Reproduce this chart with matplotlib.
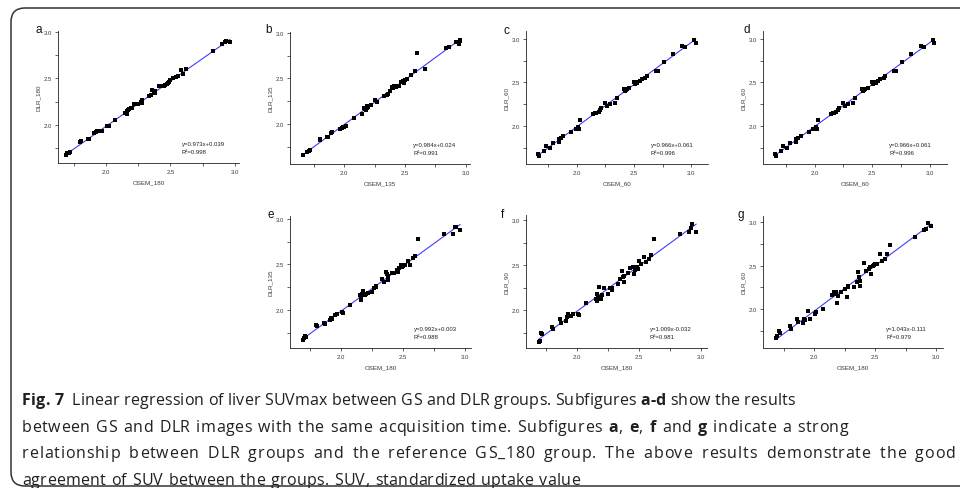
import matplotlib
matplotlib.use('Agg')
import matplotlib.pyplot as plt
from matplotlib.patches import FancyBboxPatch
from matplotlib.transforms import IdentityTransform
import numpy as np

W, H = 960, 489

# OSEM_180 values (shared x for panels a, e, f, g)
osem_180 = [1.69, 1.70, 1.71, 1.72, 1.80, 1.81, 1.86, 1.87, 1.91, 1.92, 1.93,
            1.95, 1.97, 2.01, 2.02, 2.07, 2.15, 2.16, 2.16, 2.17, 2.18, 2.19,
            2.20, 2.22, 2.25, 2.27, 2.28, 2.28, 2.33, 2.35, 2.36, 2.37, 2.38,
            2.38, 2.41, 2.43, 2.45, 2.46, 2.47, 2.48, 2.49, 2.50, 2.52, 2.54,
            2.56, 2.58, 2.60, 2.62, 2.83, 2.90, 2.92, 2.93, 2.96]
dlr_180 = [1.68, 1.70, 1.70, 1.71, 1.82, 1.83, 1.85, 1.85, 1.91, 1.92, 1.93,
           1.94, 1.94, 1.99, 1.99, 2.05, 2.13, 2.15, 2.12, 2.16, 2.17, 2.18,
           2.18, 2.22, 2.22, 2.25, 2.27, 2.24, 2.31, 2.32, 2.38, 2.37, 2.34,
           2.36, 2.42, 2.42, 2.42, 2.43, 2.44, 2.45, 2.46, 2.48, 2.50, 2.52,
           2.53, 2.59, 2.55, 2.60, 2.80, 2.87, 2.89, 2.90, 2.89]
dlr_135_e = [1.67, 1.69, 1.71, 1.70, 1.84, 1.82, 1.86, 1.85, 1.89, 1.91, 1.90,
             1.94, 1.96, 1.98, 1.97, 2.06, 2.16, 2.15, 2.11, 2.18, 2.21, 2.17,
             2.18, 2.19, 2.20, 2.24, 2.26, 2.25, 2.34, 2.31, 2.42, 2.40, 2.33,
             2.37, 2.41, 2.41, 2.44, 2.42, 2.46, 2.49, 2.47, 2.48, 2.49, 2.54,
             2.49, 2.57, 2.59, 2.78, 2.83, 2.84, 2.91, 2.91, 2.88]
dlr_90 = [1.65, 1.66, 1.75, 1.73, 1.81, 1.79, 1.90, 1.86, 1.88, 1.92, 1.96,
          1.93, 1.96, 1.96, 1.95, 2.08, 2.12, 2.18, 2.10, 2.15, 2.26, 2.12,
          2.17, 2.25, 2.18, 2.24, 2.22, 2.24, 2.29, 2.34, 2.43, 2.37, 2.31,
          2.38, 2.41, 2.47, 2.48, 2.40, 2.44, 2.48, 2.46, 2.54, 2.51, 2.59,
          2.53, 2.57, 2.61, 2.79, 2.84, 2.87, 2.91, 2.96, 2.87]
dlr_60_g = [1.67, 1.69, 1.75, 1.72, 1.80, 1.77, 1.89, 1.85, 1.84, 1.89, 1.87,
            1.98, 1.89, 1.94, 1.96, 2.00, 2.16, 2.17, 2.19, 2.18, 2.20, 2.07,
            2.15, 2.20, 2.23, 2.14, 2.26, 2.25, 2.25, 2.31, 2.43, 2.37, 2.32,
            2.26, 2.53, 2.44, 2.46, 2.48, 2.40, 2.50, 2.51, 2.52, 2.52, 2.63,
            2.55, 2.58, 2.63, 2.74, 2.83, 2.91, 2.92, 2.99, 2.95]

# panel b
osem_135 = [1.66, 1.70, 1.71, 1.72, 1.80, 1.80, 1.86, 1.87, 1.89, 1.90, 1.97,
            1.98, 1.99, 2.00, 2.02, 2.08, 2.15, 2.16, 2.17, 2.18, 2.18, 2.19,
            2.19, 2.20, 2.22, 2.25, 2.27, 2.33, 2.35, 2.36, 2.38, 2.39, 2.40,
            2.41, 2.42, 2.43, 2.45, 2.47, 2.48, 2.49, 2.50, 2.52, 2.55, 2.58,
            2.60, 2.66, 2.84, 2.86, 2.92, 2.94, 2.95, 2.95]
dlr_135 = [1.66, 1.69, 1.70, 1.71, 1.83, 1.82, 1.86, 1.86, 1.90, 1.91, 1.94,
           1.95, 1.97, 1.97, 1.98, 2.06, 2.11, 2.18, 2.16, 2.18, 2.15, 2.17,
           2.20, 2.19, 2.21, 2.26, 2.24, 2.31, 2.32, 2.33, 2.36, 2.41, 2.39,
           2.42, 2.42, 2.41, 2.42, 2.46, 2.47, 2.45, 2.48, 2.49, 2.54, 2.58,
           2.78, 2.60, 2.83, 2.84, 2.90, 2.88, 2.91, 2.92]

# panels c and d
osem_60 = [1.66, 1.67, 1.71, 1.73, 1.76, 1.79, 1.84, 1.84, 1.86, 1.88, 1.95,
           1.99, 2.01, 2.02, 2.03, 2.14, 2.16, 2.17, 2.19, 2.20, 2.21, 2.25,
           2.26, 2.29, 2.33, 2.35, 2.41, 2.42, 2.43, 2.44, 2.46, 2.50, 2.51,
           2.52, 2.53, 2.55, 2.57, 2.60, 2.61, 2.69, 2.71, 2.76, 2.84, 2.92,
           2.95, 3.03, 3.04]
dlr_60 = [1.68, 1.65, 1.71, 1.77, 1.75, 1.80, 1.82, 1.85, 1.86, 1.89, 1.93,
          1.97, 1.99, 1.97, 2.07, 2.14, 2.15, 2.15, 2.16, 2.18, 2.21, 2.26,
          2.23, 2.25, 2.26, 2.32, 2.43, 2.40, 2.41, 2.43, 2.44, 2.50, 2.48,
          2.51, 2.49, 2.52, 2.54, 2.55, 2.57, 2.63, 2.63, 2.74, 2.83, 2.92,
          2.91, 2.99, 2.95]

letters = ['a', 'b', 'c', 'd', 'e', 'f', 'g']
xlabels = ['OSEM_180', 'OSEM_135', 'OSEM_60', 'OSEM_60', 'OSEM_180', 'OSEM_180', 'OSEM_180']
ylabels = ['DLR_180', 'DLR_135', 'DLR_60', 'DLR_60', 'DLR_135', 'DLR_90', 'DLR_60']
xdata = [osem_180, osem_135, osem_60, osem_60, osem_180, osem_180, osem_180]
ydata = [dlr_180, dlr_135, dlr_60, dlr_60, dlr_135_e, dlr_90, dlr_60_g]
slopes = [0.973, 0.984, 0.966, 0.966, 0.992, 1.009, 1.043]
intercepts = [0.039, 0.024, 0.061, 0.061, 0.003, -0.032, -0.111]
r2 = [0.998, 0.991, 0.996, 0.996, 0.988, 0.981, 0.979]

caption_lines = [
    '**Fig. 7**  Linear regression of liver SUVmax between GS and DLR groups. Subfigures **a-d** show the results',
    'between GS and DLR images with the same acquisition time. Subfigures **a**, **e**, **f** and **g** indicate a strong',
    'relationship between DLR groups and the reference GS_180 group. The above results demonstrate the good',
    'agreement of SUV between the groups. SUV, standardized uptake value',
]

# layout in image pixels: left, top, right, bottom
boxes = [(58, 32, 239, 164), (290, 33, 470, 165), (526, 32, 708, 165),
         (763, 32, 947, 165), (290, 217, 471, 349), (526, 216, 707, 349),
         (763, 217, 943, 349)]
xlims = [(1.628, 3.031), (1.557, 3.033), (1.553, 3.149), (1.553, 3.149),
         (1.589, 3.048), (1.589, 3.048), (1.582, 3.057)]
ylims = [(1.591, 3.01), (1.56, 3.01), (1.563, 3.092), (1.563, 3.092),
         (1.582, 3.033), (1.578, 3.056), (1.552, 3.069)]
letter_pos = [(35, 30), (265, 30), (503, 31), (743, 30), (267, 215), (501, 215), (737, 215)]
line_ends = [795, 848, 955, 580]
baselines = [405, 432, 458, 485]

fig = plt.figure(figsize=(W / 100, H / 100), dpi=100)
fig.patch.set_facecolor('white')
tick_font = 'Liberation Sans'
txt_col = '#3a3a3a'

for i in range(7):
    l, t, r, b = boxes[i]
    ax = fig.add_axes([l / W, 1 - b / H, (r - l) / W, (b - t) / H])
    x = np.array(xdata[i])
    y = np.array(ydata[i])
    ax.scatter(x, y, marker='s', s=9, c='black', linewidths=0, zorder=3)
    xs = np.array([x.min(), x.max()])
    ax.plot(xs, slopes[i] * xs + intercepts[i], color='#3d3dff', lw=0.8, zorder=2)
    ax.set_xlim(*xlims[i])
    ax.set_ylim(*ylims[i])
    ax.set_xticks([2.0, 2.5, 3.0])
    ax.set_xticks([1.75, 2.25, 2.75], minor=True)
    ax.set_yticks([2.0, 2.5, 3.0])
    ax.set_yticks([1.75, 2.25, 2.75], minor=True)
    ax.set_xticklabels(['2.0', '2.5', '3.0'], family=tick_font)
    ax.set_yticklabels(['2.0', '2.5', '3.0'], family=tick_font)
    for s in ['top', 'right']:
        ax.spines[s].set_visible(False)
    for s in ['left', 'bottom']:
        ax.spines[s].set_linewidth(0.6)
        ax.spines[s].set_color('#222222')
    ax.tick_params(which='both', direction='out', width=0.5, color='#222222',
                   labelsize=4.3, pad=2, labelcolor=txt_col)
    ax.tick_params(which='major', length=2.5)
    ax.tick_params(which='minor', length=2.0)
    ax.set_xlabel(xlabels[i], fontsize=4.5, labelpad=3.5, family=tick_font, color=txt_col)
    ax.set_ylabel(ylabels[i], fontsize=4.5, labelpad=1.5, family=tick_font, color=txt_col)
    ax.text(0.685, 0.15, f'y={slopes[i]:.3f}x{intercepts[i]:+.3f}', transform=ax.transAxes,
            fontsize=4.3, family=tick_font, color='#222222', va='center')
    ax.text(0.685, 0.085, f'R\u00b2={r2[i]:.3f}', transform=ax.transAxes,
            fontsize=4.3, family=tick_font, color='#222222', va='center')
    lx, ly = letter_pos[i]
    fig.text(lx / W, 1 - ly / H, letters[i], fontsize=8.5, family=tick_font,
             ha='left', va='center', color='#111111')

# rounded frame
frame = FancyBboxPatch((11, 2), 1200, 478, boxstyle='round,pad=0,rounding_size=14',
                       transform=IdentityTransform(), fill=False, ec='#333333', lw=1.1)
fig.add_artist(frame)

# caption: characters placed one by one so each line spans like the original
cap_font = 'Open Sans'
cap_size = 11.5
renderer = fig.canvas.get_renderer()
_wcache = {}


def char_width(c, bold):
    key = (c, bold)
    if key not in _wcache:
        w = 'bold' if bold else 'normal'
        t1 = fig.text(0, 0, '|' + c + '|', fontsize=cap_size, family=cap_font, fontweight=w)
        t2 = fig.text(0, 0, '||', fontsize=cap_size, family=cap_font, fontweight=w)
        _wcache[key] = t1.get_window_extent(renderer).width - t2.get_window_extent(renderer).width
        t1.remove()
        t2.remove()
    return _wcache[key]


def split_words(line):
    chars = []
    for k, part in enumerate(line.split('**')):
        chars += [(c, k % 2 == 1) for c in part]
    words, cur = [], []
    for c, bold in chars:
        if c == ' ':
            if cur:
                words.append(cur)
            cur = []
        else:
            cur.append((c, bold))
    if cur:
        words.append(cur)
    return words


space_w = char_width(' ', False)
for line, base, end in zip(caption_lines, baselines, line_ends):
    words = split_words(line)
    extra_space = space_w if line.startswith('**Fig') else 0
    natural = sum(char_width(c, b) for wd in words for c, b in wd)
    natural += (len(words) - 1) * space_w + extra_space
    extra = end - 22 - natural
    n_inner = sum(len(wd) - 1 for wd in words)
    track = 0.45 * extra / n_inner
    wgap = space_w + 0.55 * extra / (len(words) - 1)
    xpos = 22
    for k, wd in enumerate(words):
        for j, (c, b) in enumerate(wd):
            fig.text(xpos, H - base, c, transform=IdentityTransform(), fontsize=cap_size,
                     family=cap_font, fontweight='bold' if b else 'normal',
                     color='#231f20', va='baseline', ha='left')
            xpos += char_width(c, b)
            if j < len(wd) - 1:
                xpos += track
        xpos += wgap
        if k == 1 and extra_space:
            xpos += extra_space

fig.savefig('out.png', dpi=100)
